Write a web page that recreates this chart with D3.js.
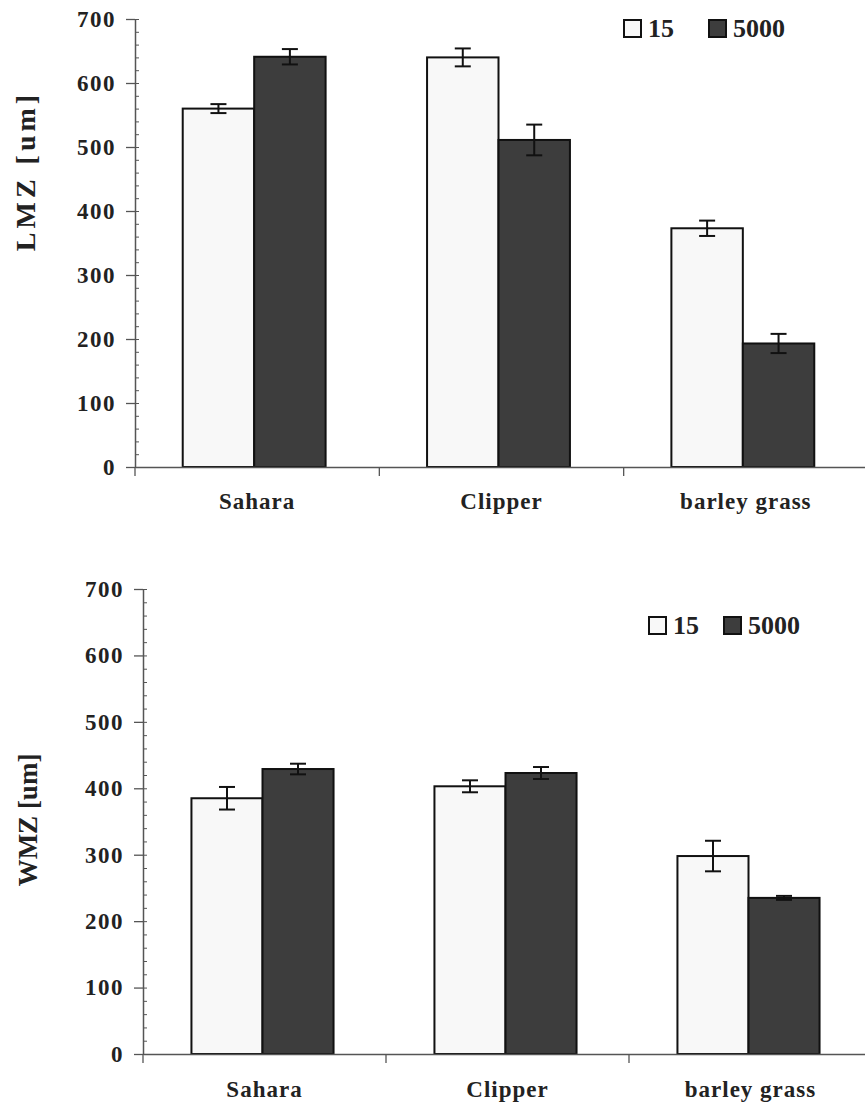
<!DOCTYPE html>
<meta charset="utf-8">
<style>
  body { margin: 0; background: #fff; }
  text { font-family: "Liberation Serif", "Times New Roman", serif; font-weight: bold; fill: #222; }
</style>
<svg width="865" height="1107"></svg>
<script src="https://d3js.org/d3.v7.min.js"></script>
<script>
// categories, series and values
var categories = ['Sahara', 'Clipper', 'barley grass'];
var series = ['15', '5000'];
var yTicks = [0, 100, 200, 300, 400, 500, 600, 700];

var lmz15 = [560, 640, 373];
var lmz15Err = [7, 14, 12];
var lmz5000 = [641, 511, 193];
var lmz5000Err = [12, 24, 15];

var wmz15 = [385, 403, 298];
var wmz15Err = [17, 9, 23];
var wmz5000 = [429, 423, 235];
var wmz5000Err = [8, 9, 3];

var colors = { '15': '#f8f8f8', '5000': '#3d3d3d' };

var svg = d3.select('svg');

function drawPanel(cfg) {
    var x = d3.scaleBand().domain(categories).range(cfg.xr);
    var xs = d3.scaleBand().domain(series).range([0, x.bandwidth()]).paddingOuter(0.71);
    var y = d3.scaleLinear().domain([0, 700]).range(cfg.yr);

    var rows = [];
    categories.forEach(function (c, i) {
        rows.push({ cat: c, s: '15', v: cfg.a[i], e: cfg.ae[i] });
        rows.push({ cat: c, s: '5000', v: cfg.b[i], e: cfg.be[i] });
    });

    var g = svg.append('g');

    // bars
    g.selectAll('rect.bar').data(rows).enter().append('rect')
        .attr('class', 'bar')
        .attr('x', function (d) { return x(d.cat) + xs(d.s) + cfg.shift; })
        .attr('y', function (d) { return y(d.v); })
        .attr('width', xs.bandwidth())
        .attr('height', function (d) { return y(0) - y(d.v); })
        .attr('fill', function (d) { return colors[d.s]; })
        .attr('stroke', '#111')
        .attr('stroke-width', 2);

    // error bars
    var eb = g.selectAll('g.err').data(rows).enter().append('g')
        .attr('class', 'err')
        .attr('transform', function (d) {
            return 'translate(' + (x(d.cat) + xs(d.s) + xs.bandwidth() / 2 + cfg.shift) + ',0)';
        })
        .attr('stroke', '#111').attr('stroke-width', 2);
    eb.append('line').attr('y1', function (d) { return y(d.v + d.e); })
        .attr('y2', function (d) { return y(d.v - d.e); });
    eb.append('line').attr('x1', -8).attr('x2', 8)
        .attr('y1', function (d) { return y(d.v + d.e); })
        .attr('y2', function (d) { return y(d.v + d.e); });
    eb.append('line').attr('x1', -8).attr('x2', 8)
        .attr('y1', function (d) { return y(d.v - d.e); })
        .attr('y2', function (d) { return y(d.v - d.e); });

    // y axis: minor ticks to the right, major ticks with labels to the left
    var x0 = cfg.xr[0];
    g.append('g')
        .attr('transform', 'translate(' + x0 + ',0)')
        .call(d3.axisRight(y).tickValues(d3.range(0, 701, 20)).tickSize(4).tickFormat(''))
        .call(function (a) {
            a.selectAll('line').attr('stroke', '#555');
            a.select('.domain').remove();
        });
    g.append('g')
        .attr('transform', 'translate(' + x0 + ',0)')
        .call(d3.axisLeft(y).tickValues(yTicks).tickSize(9).tickPadding(10).tickSizeOuter(0))
        .call(function (a) {
            a.selectAll('line').attr('stroke', '#555').attr('stroke-width', 1.3);
            a.select('.domain').attr('stroke', '#555').attr('stroke-width', 1.5);
            a.selectAll('text').attr('font-size', 23).attr('letter-spacing', 1.5)
                .attr('fill', '#222');
        });

    // x axis: labels centred, tick marks at category boundaries
    var xa = g.append('g')
        .attr('transform', 'translate(0,' + cfg.yr[0] + ')')
        .call(d3.axisBottom(x).tickSize(0).tickPadding(cfg.labelPad).tickSizeOuter(0))
        .call(function (a) {
            a.select('.domain').attr('stroke', '#555').attr('stroke-width', 1.5);
            a.selectAll('text').attr('font-size', 23).attr('letter-spacing', 1)
                .attr('fill', '#222');
        });
    xa.selectAll('line.bound').data(categories).enter().append('line')
        .attr('class', 'bound')
        .attr('x1', function (c) { return x(c); })
        .attr('x2', function (c) { return x(c); })
        .attr('y1', 0).attr('y2', 9)
        .attr('stroke', '#555').attr('stroke-width', 1.3);

    // y axis title
    svg.append('text')
        .attr('transform', 'translate(' + cfg.titleX + ',' + cfg.titleY + ') rotate(-90)')
        .attr('text-anchor', 'middle')
        .attr('font-size', cfg.titleSize)
        .attr('letter-spacing', cfg.titleSpacing)
        .text(cfg.title);

    // legend
    var lg = svg.append('g').attr('transform', 'translate(' + cfg.legX + ',' + cfg.legY + ')');
    var items = lg.selectAll('g').data(series).enter().append('g')
        .attr('transform', function (d, i) { return 'translate(' + (i * cfg.legStep) + ',0)'; });
    items.append('rect')
        .attr('x', 0).attr('y', -17).attr('width', 17).attr('height', 17)
        .attr('fill', function (d) { return colors[d]; })
        .attr('stroke', '#111').attr('stroke-width', 2);
    items.append('text')
        .attr('x', 24).attr('y', 0)
        .attr('font-size', 26)
        .text(function (d) { return d; });
}

drawPanel({
    xr: [135, 868], yr: [467, 19], shift: -3, labelPad: 26,
    a: lmz15, ae: lmz15Err, b: lmz5000, be: lmz5000Err,
    title: 'LMZ [um]', titleX: 35, titleY: 171, titleSize: 28, titleSpacing: 4,
    legX: 624, legY: 37, legStep: 85
});
drawPanel({
    xr: [143, 872], yr: [1054, 589], shift: -2, labelPad: 27,
    a: wmz15, ae: wmz15Err, b: wmz5000, be: wmz5000Err,
    title: 'WMZ [um]', titleX: 37, titleY: 820, titleSize: 27, titleSpacing: 0,
    legX: 649, legY: 634, legStep: 75
});
</script>
